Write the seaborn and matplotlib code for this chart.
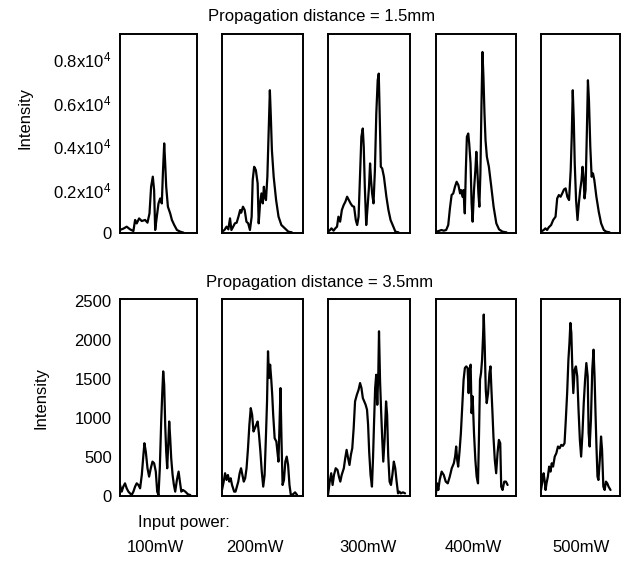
import matplotlib
matplotlib.use("Agg")
import matplotlib.pyplot as plt
import seaborn as sns
import pandas as pd

# ---------------- data ----------------
powers = ["100mW", "200mW", "300mW", "400mW", "500mW"]
row_titles = ["Propagation distance = 1.5mm", "Propagation distance = 3.5mm"]

# Propagation distance 1.5 mm (x = position across window, %)
x_15_100 = [0, 4.3, 8.7, 13, 17.4, 19.6, 21.7, 24.8, 28.3, 32.6, 35.7, 38.3, 40.4, 42.6, 44.3, 45.7, 47.8, 50, 52.2,
            54.3, 55.7, 57.4, 58.7, 60, 62.2, 65.2, 67.4, 70.4, 73.9, 78.3, 82.6]
y_15_100 = [140, 200, 290, 170, 90, 600, 440, 670, 550, 600, 475, 900, 2130, 2590, 1970, 140, 750, 1360, 1590,
            1360, 2740, 4120, 3200, 2130, 1210, 900, 600, 370, 140, 60, 15]

x_15_200 = [0, 3.0, 5.6, 7.8, 9.9, 11.6, 13.8, 15.9, 18.1, 20.3, 22.4, 23.7, 25.9, 28.0, 30.2, 32.3, 34.5, 36.6, 37.9,
            39.7, 41.8, 44.0, 45.3, 47.0, 48.7, 50.4, 51.7, 53.0, 54.3, 56.0, 57.3, 59.1, 60.3, 61.6, 63.8, 66.8,
            69.8, 73.3, 77.6, 81.9, 86.2]
y_15_200 = [61, 138, 291, 168, 673, 138, 291, 444, 474, 750, 1056, 933, 1209, 1056, 520, 444, 138, 750, 2433,
            3045, 2892, 2280, 444, 1362, 1821, 1362, 2127, 1668, 1515, 2586, 4269, 6564, 5340, 3810, 2586, 1515,
            750, 367, 214, 61, 31]

x_15_300 = [0, 2.5, 4.2, 6.8, 8.9, 11.0, 12.7, 14.8, 16.9, 19.1, 21.2, 23.3, 25.4, 27.5, 29.7, 31.8, 33.9, 35.6, 37.3,
            39.0, 40.7, 42.4, 43.6, 44.9, 46.6, 48.3, 50.0, 51.3, 52.5, 53.8, 55.5, 57.2, 58.9, 60.6, 61.9, 63.1,
            64.4, 66.1, 68.2, 71.2, 73.7, 76.3, 79.7, 82.2, 86.0]
y_15_300 = [61, 138, 214, 107, 214, 291, 750, 520, 1056, 1285, 1438, 1668, 1515, 1362, 1239, 1209, 597, 367, 750,
            2586, 4422, 4804, 3963, 2127, 367, 1209, 2127, 3198, 2433, 1821, 1362, 2892, 5493, 7023, 7329, 5340,
            3045, 2968, 2586, 1668, 1056, 597, 291, 61, 31]

x_15_400 = [0, 3.4, 6.8, 9.7, 12.7, 15.3, 17.4, 19.5, 21.6, 23.7, 25.8, 28.0, 30.1, 31.4, 33.1, 34.3, 36.0, 37.3,
            38.6, 40.3, 41.5, 43.2, 44.5, 45.8, 47.5, 49.2, 50.4, 51.7, 53.0, 54.2, 55.5, 56.8, 58.1, 59.3, 60.6,
            61.9, 63.6, 66.1, 69.1, 72.0, 75.4, 78.8, 83.1, 88.1]
y_15_400 = [61, 92, 138, 107, 138, 367, 1132, 1744, 1821, 2127, 2356, 2203, 1821, 1974, 1668, 1974, 903, 2892,
            4422, 4575, 4116, 3198, 1362, 520, 1974, 2892, 3733, 2892, 1821, 1209, 2739, 5799, 8323, 7176, 5493,
            4269, 3504, 3045, 2127, 1209, 444, 168, 61, 31]

x_15_500 = [0, 3.4, 5.6, 7.7, 9.8, 12.8, 15.4, 18.4, 20.5, 22.6, 24.8, 26.9, 29.1, 31.2, 33.3, 35.5, 37.6, 38.9,
            40.2, 41.5, 42.7, 44.4, 46.2, 47.9, 49.6, 51.3, 52.6, 53.8, 55.1, 56.4, 58.1, 59.4, 60.7, 62.4, 64.1,
            65.8, 67.5, 70.1, 73.1, 76.1, 79.5, 82.5, 86.8]
y_15_500 = [61, 138, 214, 138, 260, 367, 597, 750, 1591, 1744, 1668, 1821, 2004, 2050, 1668, 1515, 2892, 4422,
            6564, 5187, 3198, 1515, 597, 1362, 1974, 2433, 3045, 2586, 1591, 1974, 4728, 7023, 6105, 3963, 2586,
            2739, 2433, 1668, 979, 444, 138, 61, 31]

# Propagation distance 3.5 mm
x_35_100 = [0, 2.2, 4.3, 6.5, 8.7, 10.9, 13.0, 15.2, 17.4, 19.6, 21.7, 23.9, 26.1, 28.3, 30.4, 31.7, 33.5, 35.7,
            37.8, 40.0, 42.2, 44.3, 46.5, 48.3, 50.0, 51.7, 53.5, 54.8, 56.1, 57.4, 58.7, 60.0, 61.3, 62.6, 63.9,
            65.2, 66.5, 68.3, 70.0, 71.7, 73.9, 76.1, 77.8, 79.6, 81.7, 84.8, 88.3, 91.3]
y_35_100 = [141, 56, 120, 162, 98, 56, 34, 13, 56, 120, 162, 141, 98, 269, 526, 675, 568, 355,
            248, 355, 440, 419, 312, 56, 13, 355, 953, 1295, 1594, 1423, 910, 568, 355, 654, 953,
            739, 483, 269, 141, 56, 205, 312, 184, 56, 77, 56, 21, 13]

x_35_200 = [0, 2.1, 3.8, 5.6, 7.3, 9.0, 10.7, 12.4, 15.0, 16.7, 18.4, 20.1, 21.8, 23.5, 25.2, 26.9, 28.6, 30.3,
            32.1, 33.8, 35.5, 37.2, 38.9, 40.6, 42.3, 44.0, 45.7, 47.4, 49.1, 50.9, 52.6, 54.3, 55.6, 56.8, 58.1,
            59.4, 60.7, 62.0, 63.2, 65.0, 67.1, 68.4, 69.7, 70.9, 72.2, 73.5, 74.8, 76.5, 78.2, 79.9, 81.6, 83.3,
            85.0, 87.6, 90.2, 92.7]
y_35_200 = [77, 184, 291, 205, 269, 184, 227, 141, 56, 56, 120, 184, 291, 355, 269, 184, 227, 355,
            611, 910, 1124, 1039, 825, 868, 910, 953, 782, 568, 312, 120, 269, 782, 1210, 1851, 1509,
            1680, 1509, 1295, 1039, 739, 697, 568, 440, 868, 1380, 697, 141, 205, 440, 504, 397, 141,
            13, 21, 47, 13]

x_35_300 = [0, 2.1, 3.9, 5.6, 7.3, 9.4, 11.6, 13.3, 15.0, 16.7, 19.3, 21.0, 22.7, 24.5, 26.2, 27.9, 29.6, 31.3,
            33.0, 35.2, 37.3, 39.1, 40.8, 42.5, 44.2, 45.9, 47.6, 48.9, 50.2, 51.9, 53.6, 54.9, 56.2, 57.5, 58.8,
            60.1, 61.4, 62.2, 63.5, 64.8, 66.1, 67.4, 69.1, 70.8, 72.1, 73.4, 75.1, 76.8, 78.5, 80.3, 82.0, 83.7,
            85.4, 87.1, 88.8, 91.4, 94.0]
y_35_300 = [13, 184, 291, 141, 269, 355, 333, 248, 184, 269, 355, 483, 590, 483, 397, 526, 611, 868,
            1210, 1295, 1359, 1445, 1381, 1252, 1210, 1167, 1103, 910, 568, 269, 120, 483, 953, 1381, 1551,
            1167, 1594, 2107, 1466, 1081, 739, 440, 739, 1210, 1039, 526, 184, 141, 269, 440, 355, 184,
            34, 56, 34, 47, 34]

x_35_400 = [0, 1.3, 2.9, 4.6, 7.1, 9.7, 12.2, 14.7, 17.2, 19.7, 22.3, 23.9, 25.2, 26.5, 27.7, 29.4, 31.1, 32.8,
            34.5, 36.1, 37.8, 39.5, 40.8, 42.0, 43.3, 44.5, 45.8, 47.5, 49.2, 50.8, 52.5, 53.8, 55.0, 56.3, 57.6,
            58.8, 59.7, 60.9, 62.2, 63.4, 65.1, 66.8, 68.1, 69.3, 70.6, 71.8, 73.5, 75.2, 76.9, 78.6, 80.3, 81.5,
            83.2, 85.3, 87.4, 89.5]
y_35_400 = [34, 162, 77, 205, 312, 269, 184, 162, 248, 355, 419, 504, 633, 462, 376, 568, 804, 1145,
            1487, 1637, 1658, 1637, 1316, 1616, 1680, 1060, 1274, 804, 462, 248, 162, 804, 1487, 1573, 1744,
            2043, 2321, 1915, 1359, 1188, 1316, 1573, 1658, 1359, 1060, 761, 462, 291, 547, 718, 675, 120,
            77, 184, 184, 141]

x_35_500 = [0, 1.7, 3.3, 4.5, 5.8, 7.0, 8.7, 10.3, 12.0, 13.6, 15.3, 17.4, 19.4, 21.5, 23.6, 25.6, 27.7, 29.8,
            31.4, 33.1, 34.7, 36.0, 37.2, 38.4, 39.7, 40.9, 42.6, 44.2, 45.9, 47.5, 49.2, 50.8, 52.5, 54.1, 55.8,
            57.4, 59.1, 60.3, 61.6, 63.2, 64.9, 66.5, 67.8, 69.0, 70.2, 71.5, 72.7, 74.4, 76.0, 77.3, 78.9, 80.6,
            82.2, 83.9, 85.5, 88.0]
y_35_500 = [77, 184, 291, 205, 77, 162, 248, 376, 312, 419, 376, 504, 547, 633, 611, 654, 641, 675,
            974, 1316, 1744, 1957, 2214, 2086, 1616, 1316, 1616, 1658, 1530, 1103, 718, 504, 804, 1188, 1487,
            1701, 1530, 804, 633, 974, 1616, 1872, 1530, 1060, 633, 248, 205, 462, 761, 590, 120, 77,
            184, 162, 120, 77]

top_ticks = [0, 2000, 4000, 6000, 8000]
top_ticklabels = ["0", "0.2x10$^4$", "0.4x10$^4$", "0.6x10$^4$", "0.8x10$^4$"]
bottom_ticks = [0, 500, 1000, 1500, 2000, 2500]
bottom_ticklabels = ["0", "500", "1000", "1500", "2000", "2500"]

rows = [
    [(x_15_100, y_15_100), (x_15_200, y_15_200), (x_15_300, y_15_300), (x_15_400, y_15_400), (x_15_500, y_15_500)],
    [(x_35_100, y_35_100), (x_35_200, y_35_200), (x_35_300, y_35_300), (x_35_400, y_35_400), (x_35_500, y_35_500)],
]

# ---------------- style ----------------
sns.set_style("white")
plt.rcParams["font.family"] = ["Liberation Sans", "DejaVu Sans"]
plt.rcParams["mathtext.fontset"] = "custom"
plt.rcParams["mathtext.rm"] = "Liberation Sans"
plt.rcParams["mathtext.it"] = "Liberation Sans"
plt.rcParams["mathtext.default"] = "regular"
for key in ["text.color", "axes.labelcolor", "xtick.color", "ytick.color"]:
    plt.rcParams[key] = "black"

W, H = 624, 568
fig = plt.figure(figsize=(W / 100, H / 100), dpi=100)
fig.patch.set_facecolor("white")

def px_axes(x0, y0, x1, y1):
    return fig.add_axes([x0 / W, 1 - y1 / H, (x1 - x0) / W, (y1 - y0) / H])

col_px = [(120, 197), (222, 303), (328, 410), (436, 516), (541, 620)]
row_px = [(34, 233), (299, 496)]
ylims = [9150, 2520]
FS = 12

for r in range(2):
    for c in range(5):
        ax = px_axes(col_px[c][0], row_px[r][0], col_px[c][1], row_px[r][1])
        xs, ys = rows[r][c]
        df = pd.DataFrame({"pos": xs, "intensity": ys})
        sns.lineplot(data=df, x="pos", y="intensity", ax=ax, color="black",
                     linewidth=1.6, estimator=None, sort=False)
        ax.set_xlim(0, 100)
        ax.set_ylim(0, ylims[r])
        ax.set_xlabel("")
        ax.set_ylabel("")
        ax.set_xticks([])
        for s in ax.spines.values():
            s.set_visible(True)
            s.set_linewidth(1.4)
            s.set_color("black")
        if c == 0:
            if r == 0:
                ax.set_yticks(top_ticks)
                ax.set_yticklabels(top_ticklabels)
            else:
                ax.set_yticks(bottom_ticks)
                ax.set_yticklabels(bottom_ticklabels)
            ax.tick_params(axis="y", length=0, pad=6, labelsize=FS, labelcolor="black")
        else:
            ax.set_yticks([])

def ftext(x, y, s, **kw):
    fig.text(x / W, 1 - y / H, s, color="black", **kw)

ftext(322, 16, row_titles[0], ha="center", va="center", fontsize=FS)
ftext(320, 282, row_titles[1], ha="center", va="center", fontsize=FS)
ftext(25, 118, "Intensity", ha="center", va="center", rotation=90, fontsize=FS)
ftext(41, 398, "Intensity", ha="center", va="center", rotation=90, fontsize=FS)
ftext(184, 523, "Input power:", ha="center", va="center", fontsize=FS)
for cx, lab in zip([155, 255, 368, 473, 581], powers):
    ftext(cx, 548, lab, ha="center", va="center", fontsize=FS)

fig.savefig("out.png", dpi=100, facecolor="white")
